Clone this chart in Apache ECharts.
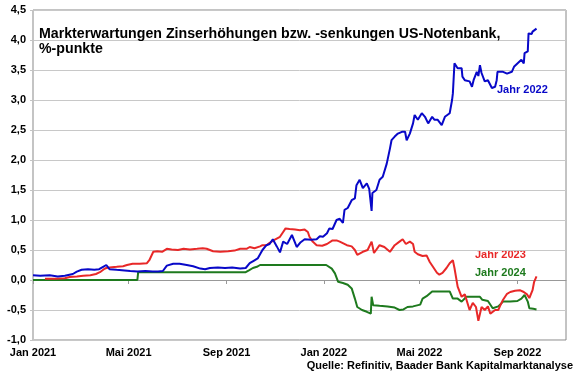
<!DOCTYPE html>
<html>
<head>
<meta charset="utf-8">
<script src="https://cdn.jsdelivr.net/npm/echarts@6/dist/echarts.min.js"></script>
<style>
html,body{margin:0;padding:0;background:#fff;}
#chart{width:580px;height:375px;}
</style>
</head>
<body>
<div id="chart"></div>
<script>
// ---- data ----
var titleText = 'Markterwartungen Zinserhöhungen bzw. -senkungen US-Notenbank,\n%-punkte';
var sourceText = 'Quelle: Refinitiv, Baader Bank Kapitalmarktanalyse';
var seriesNames = ['Jahr 2022', 'Jahr 2023', 'Jahr 2024'];

var xTickDates = ['2021-01-01','2021-05-01','2021-09-01','2022-01-01','2022-05-01','2022-09-01'];
var xTickLabels = ['Jan 2021','Mai 2021','Sep 2021','Jan 2022','Mai 2022','Sep 2022'];
var xMin = '2021-01-01';
var xMax = '2022-11-01';
var yMin = -1.0, yMax = 4.5, yStep = 0.5;

var blueDates = ['2021-01-01','2021-01-10','2021-01-22','2021-02-01','2021-02-10','2021-02-20','2021-02-25','2021-03-03','2021-03-11','2021-03-19','2021-03-25','2021-03-30','2021-04-03','2021-04-07','2021-04-16','2021-04-26','2021-05-03','2021-05-12','2021-05-22','2021-05-31','2021-06-07','2021-06-13','2021-06-18','2021-06-26','2021-07-04','2021-07-13','2021-07-21','2021-07-30','2021-08-05','2021-08-11','2021-08-21','2021-08-30','2021-09-08','2021-09-18','2021-09-25','2021-09-30','2021-10-05','2021-10-10','2021-10-16','2021-10-21','2021-10-25','2021-10-29','2021-11-03','2021-11-07','2021-11-11','2021-11-16','2021-11-22','2021-11-26','2021-11-28','2021-12-03','2021-12-08','2021-12-16','2021-12-23','2021-12-27','2021-12-31','2022-01-05','2022-01-08','2022-01-12','2022-01-17','2022-01-21','2022-01-25','2022-01-27','2022-01-31','2022-02-05','2022-02-09','2022-02-11','2022-02-15','2022-02-19','2022-02-24','2022-02-27','2022-03-02','2022-03-03','2022-03-08','2022-03-12','2022-03-16','2022-03-21','2022-03-25','2022-03-27','2022-03-31','2022-04-04','2022-04-09','2022-04-13','2022-04-15','2022-04-19','2022-04-23','2022-04-25','2022-04-29','2022-05-04','2022-05-08','2022-05-12','2022-05-17','2022-05-20','2022-05-24','2022-05-29','2022-06-02','2022-06-08','2022-06-11','2022-06-12','2022-06-14','2022-06-18','2022-06-23','2022-06-24','2022-06-27','2022-07-03','2022-07-06','2022-07-08','2022-07-12','2022-07-14','2022-07-16','2022-07-18','2022-07-22','2022-07-26','2022-07-31','2022-08-04','2022-08-06','2022-08-07','2022-08-14','2022-08-19','2022-08-25','2022-08-28','2022-09-01','2022-09-06','2022-09-09','2022-09-10','2022-09-14','2022-09-15','2022-09-16','2022-09-19','2022-09-20','2022-09-22','2022-09-25'];
var blueValues = [0.08,0.07,0.08,0.06,0.07,0.10,0.14,0.17,0.18,0.17,0.18,0.22,0.25,0.18,0.17,0.16,0.15,0.14,0.15,0.14,0.14,0.15,0.24,0.27,0.27,0.25,0.23,0.19,0.18,0.20,0.21,0.20,0.21,0.19,0.20,0.28,0.32,0.36,0.50,0.58,0.60,0.68,0.56,0.46,0.64,0.60,0.75,0.62,0.55,0.63,0.68,0.67,0.68,0.73,0.72,0.78,0.86,0.85,1.00,1.02,0.95,1.17,1.20,1.33,1.36,1.58,1.67,1.53,1.61,1.52,1.15,1.45,1.50,1.67,1.72,1.94,2.19,2.33,2.39,2.44,2.47,2.47,2.33,2.44,2.61,2.75,2.67,2.78,2.72,2.61,2.72,2.67,2.67,2.58,2.72,2.78,3.00,3.11,3.61,3.53,3.53,3.39,3.33,3.31,3.22,3.33,3.47,3.40,3.58,3.45,3.31,3.33,3.20,3.22,3.33,3.47,3.47,3.44,3.47,3.56,3.61,3.67,3.61,3.78,3.81,4.11,4.14,4.10,4.14,4.15,4.19];

var redDates = ['2021-01-16','2021-01-28','2021-02-10','2021-02-16','2021-02-25','2021-03-05','2021-03-14','2021-03-21','2021-03-26','2021-03-31','2021-04-03','2021-04-07','2021-04-16','2021-04-24','2021-04-29','2021-05-06','2021-05-15','2021-05-24','2021-05-27','2021-06-01','2021-06-06','2021-06-12','2021-06-18','2021-06-24','2021-07-02','2021-07-09','2021-07-17','2021-07-26','2021-08-02','2021-08-07','2021-08-15','2021-08-24','2021-09-03','2021-09-11','2021-09-18','2021-09-26','2021-09-30','2021-10-06','2021-10-13','2021-10-16','2021-10-21','2021-10-25','2021-10-31','2021-11-07','2021-11-11','2021-11-14','2021-11-19','2021-11-26','2021-12-02','2021-12-08','2021-12-12','2021-12-14','2021-12-18','2021-12-23','2021-12-30','2022-01-05','2022-01-12','2022-01-17','2022-01-21','2022-01-30','2022-02-05','2022-02-09','2022-02-12','2022-02-19','2022-02-25','2022-03-02','2022-03-05','2022-03-12','2022-03-18','2022-03-25','2022-03-31','2022-04-06','2022-04-10','2022-04-14','2022-04-19','2022-04-23','2022-04-25','2022-04-29','2022-05-05','2022-05-10','2022-05-14','2022-05-18','2022-05-23','2022-05-26','2022-05-30','2022-06-04','2022-06-08','2022-06-12','2022-06-14','2022-06-18','2022-06-23','2022-06-27','2022-06-29','2022-07-03','2022-07-07','2022-07-11','2022-07-14','2022-07-18','2022-07-22','2022-07-26','2022-07-29','2022-08-04','2022-08-08','2022-08-10','2022-08-14','2022-08-19','2022-08-23','2022-08-29','2022-09-04','2022-09-09','2022-09-13','2022-09-16','2022-09-20','2022-09-22','2022-09-25'];
var redValues = [0.02,0.02,0.03,0.05,0.06,0.07,0.08,0.10,0.13,0.18,0.20,0.21,0.22,0.23,0.25,0.27,0.27,0.28,0.33,0.47,0.48,0.47,0.52,0.51,0.50,0.52,0.51,0.52,0.53,0.52,0.48,0.47,0.48,0.49,0.52,0.52,0.55,0.53,0.56,0.58,0.58,0.62,0.67,0.72,0.80,0.86,0.85,0.84,0.83,0.84,0.80,0.72,0.64,0.58,0.57,0.60,0.66,0.66,0.64,0.58,0.56,0.50,0.42,0.47,0.50,0.64,0.45,0.58,0.55,0.47,0.58,0.64,0.68,0.60,0.64,0.60,0.47,0.43,0.40,0.41,0.30,0.22,0.12,0.09,0.12,0.20,0.28,0.33,0.20,-0.11,-0.28,-0.24,-0.22,-0.50,-0.38,-0.45,-0.68,-0.45,-0.50,-0.44,-0.56,-0.50,-0.50,-0.44,-0.33,-0.23,-0.20,-0.18,-0.17,-0.20,-0.24,-0.30,-0.17,-0.03,0.06];

var greenDates = ['2021-01-01','2021-05-12','2021-05-13','2021-09-25','2021-09-29','2021-10-04','2021-10-09','2021-10-13','2022-01-04','2022-01-06','2022-01-11','2022-01-15','2022-01-19','2022-01-25','2022-01-31','2022-02-05','2022-02-09','2022-02-12','2022-02-18','2022-02-24','2022-03-01','2022-03-02','2022-03-04','2022-03-12','2022-03-22','2022-03-31','2022-04-06','2022-04-11','2022-04-16','2022-04-23','2022-05-02','2022-05-05','2022-05-10','2022-05-17','2022-05-26','2022-06-08','2022-06-12','2022-06-18','2022-06-23','2022-06-29','2022-07-07','2022-07-16','2022-07-19','2022-07-26','2022-08-01','2022-08-08','2022-08-14','2022-08-23','2022-09-01','2022-09-06','2022-09-10','2022-09-14','2022-09-16','2022-09-21','2022-09-25'];
var greenValues = [0,0,0.13,0.13,0.16,0.20,0.22,0.25,0.25,0.25,0.19,0.11,-0.03,-0.05,-0.08,-0.14,-0.31,-0.45,-0.50,-0.53,-0.56,-0.28,-0.42,-0.43,-0.44,-0.46,-0.50,-0.49,-0.45,-0.44,-0.41,-0.31,-0.27,-0.19,-0.19,-0.19,-0.31,-0.31,-0.36,-0.28,-0.28,-0.28,-0.33,-0.35,-0.47,-0.44,-0.36,-0.36,-0.35,-0.31,-0.25,-0.36,-0.47,-0.48,-0.49];

// ---- helpers ----
function ts(s){ var p = s.split('-'); return Date.UTC(+p[0], +p[1]-1, +p[2]); }
function pairs(d, v){ return d.map(function(x,i){ return [ts(x), v[i]]; }); }
var tickTs = xTickDates.map(ts);

var colors = ['#0808C8', '#E82828', '#1E7A1E'];
var font = 'Liberation Sans, Arial, sans-serif';

var chart = echarts.init(document.getElementById('chart'), null, {renderer:'canvas'});
chart.setOption({
  animation: false,
  backgroundColor: '#fff',
  grid: { left: 33, right: 14, top: 10, bottom: 35, show: true, borderColor: '#888', borderWidth: 1 },
  title: {
    text: titleText, left: 34, top: 22,
    textStyle: { fontFamily: font, fontSize: 14.2, fontWeight: 'bold', color: '#000', lineHeight: 15 }
  },
  xAxis: {
    type: 'value', min: ts(xMin), max: ts(xMax),
    axisLine: { show: true, lineStyle: { color: '#999', width: 1 } },
    axisTick: { show: true, length: 4, lineStyle: { color: '#999' }, customValues: tickTs },
    splitLine: { show: false },
    axisLabel: {
      customValues: tickTs, margin: 7, color: '#000',
      fontFamily: font, fontSize: 11, fontWeight: 'bold',
      formatter: function(v){ var i = tickTs.indexOf(v); return i >= 0 ? xTickLabels[i] : ''; }
    }
  },
  yAxis: {
    type: 'value', min: yMin, max: yMax, interval: yStep,
    axisLine: { show: true, lineStyle: { color: '#c4c4c4', width: 1 } },
    axisTick: { show: true, length: 3, lineStyle: { color: '#c4c4c4' } },
    splitLine: { show: true, lineStyle: { color: '#c8c8c8', width: 1 } },
    axisLabel: {
      margin: 7, color: '#000', fontFamily: font, fontSize: 11, fontWeight: 'bold',
      formatter: function(v){ return v.toFixed(1).replace('.', ','); }
    }
  },
  series: [
    { name: seriesNames[2], type: 'line', data: pairs(greenDates, greenValues), showSymbol: false, lineStyle: { color: colors[2], width: 2 }, itemStyle: { color: colors[2] } },
    { name: seriesNames[1], type: 'line', data: pairs(redDates, redValues), showSymbol: false, lineStyle: { color: colors[1], width: 2 }, itemStyle: { color: colors[1] } },
    { name: seriesNames[0], type: 'line', data: pairs(blueDates, blueValues), showSymbol: false, lineStyle: { color: colors[0], width: 2 }, itemStyle: { color: colors[0] } }
  ],
  graphic: [
    { type: 'text', left: 497, top: 84, style: { text: seriesNames[0], fill: colors[0], font: 'bold 11px ' + font } },
    { type: 'text', left: 475, top: 249, style: { text: seriesNames[1], fill: colors[1], font: 'bold 11px ' + font } },
    { type: 'text', left: 475, top: 267, style: { text: seriesNames[2], fill: colors[2], font: 'bold 11px ' + font } },
    { type: 'text', right: 7, top: 360, style: { text: sourceText, fill: '#000', font: 'bold 11px ' + font } }
  ]
});
</script>
</body>
</html>
